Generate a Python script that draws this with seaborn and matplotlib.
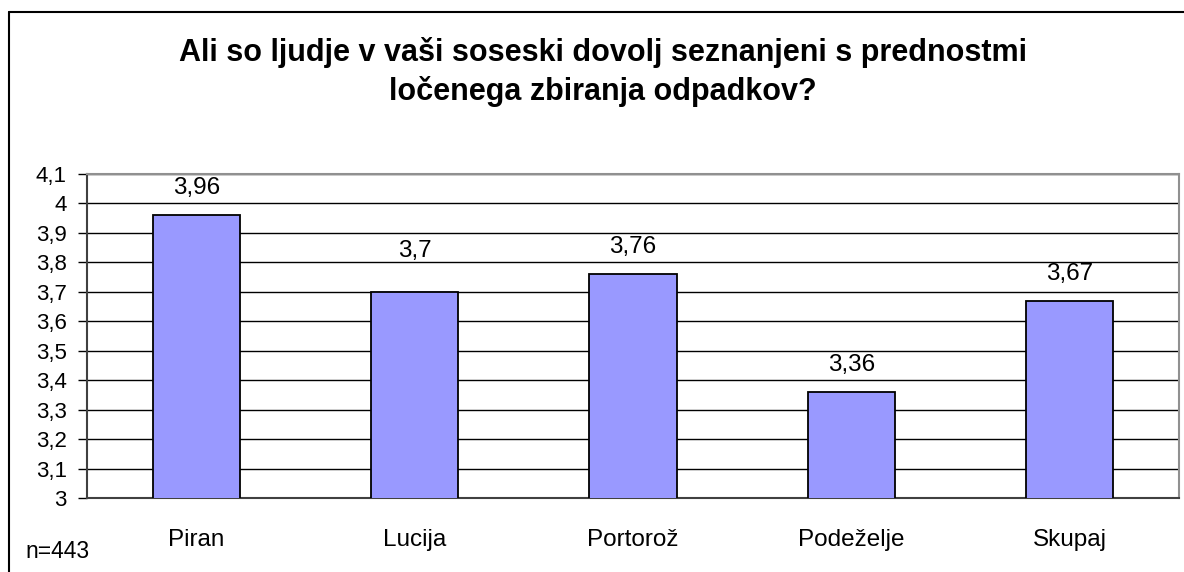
import matplotlib
matplotlib.use("Agg")
import matplotlib.pyplot as plt
import seaborn as sns
import pandas as pd
import numpy as np
from matplotlib.lines import Line2D

categories = ["Piran", "Lucija", "Portorož", "Podeželje", "Skupaj"]
values = [3.96, 3.70, 3.76, 3.36, 3.67]
value_labels = ["3,96", "3,7", "3,76", "3,36", "3,67"]
yticks = [3.0, 3.1, 3.2, 3.3, 3.4, 3.5, 3.6, 3.7, 3.8, 3.9, 4.0, 4.1]
ytick_labels = ["3", "3,1", "3,2", "3,3", "3,4", "3,5", "3,6", "3,7", "3,8", "3,9", "4", "4,1"]
title = "Ali so ljudje v vaši soseski dovolj seznanjeni s prednostmi\nločenega zbiranja odpadkov?"
note = "n=443"

sns.set_theme(style="white")
plt.rcParams["font.family"] = ["Liberation Sans", "DejaVu Sans"]
plt.rcParams["text.color"] = "black"
plt.rcParams["xtick.color"] = "black"
plt.rcParams["ytick.color"] = "black"

W, H = 1184, 572
fig = plt.figure(figsize=(W / 100, H / 100), dpi=100)
fig.patch.set_facecolor("white")
ax = fig.add_axes([87 / W, 1 - 498 / H, (1179 - 87) / W, (498 - 174) / H])

df = pd.DataFrame({"cat": categories, "val": values})
sns.barplot(data=df, x="cat", y="val", order=categories, color="#9999FF",
            saturation=1, width=0.4, edgecolor="black", linewidth=1.3, ax=ax, zorder=3)

ax.set_ylim(3.0, 4.1)
ax.set_xlim(-0.5, len(categories) - 0.5)
ax.set_yticks(yticks)
ax.set_yticklabels(ytick_labels, fontsize=16)
ax.set_xticks(range(len(categories)))
ax.set_xticklabels(categories, fontsize=17.5)
ax.tick_params(axis="x", which="major", length=0, pad=22)
ax.set_xticks(np.arange(-0.5, len(categories), 1.0), minor=True)
ax.tick_params(axis="x", which="minor", length=6.5, width=1, color="black", direction="out")
ax.tick_params(axis="y", length=6.5, width=1, color="black", direction="out", pad=8, left=True)
ax.set_xlabel("")
ax.set_ylabel("")

ax.yaxis.grid(True, color="black", linewidth=1)
ax.set_axisbelow(True)
for s in ["top", "right"]:
    ax.spines[s].set_color("#909090")
    ax.spines[s].set_linewidth(1.5)
for s in ["left", "bottom"]:
    ax.spines[s].set_color("#404040")
    ax.spines[s].set_linewidth(1.5)

# data labels placed a fixed distance above each bar (one nudged as in the original)
label_nudge = {1: 10}
for i, (v, lab) in enumerate(zip(values, value_labels)):
    ax.annotate(lab, xy=(i, v), xytext=(0, 19.5 + label_nudge.get(i, 0)), textcoords="offset points",
                ha="center", va="center", fontsize=17.5, color="black", zorder=5)

fig.text(603 / W, 1 - 72 / H, title, ha="center", va="center", fontsize=22,
         fontweight="bold", linespacing=1.3)
fig.text(25 / W, 1 - 551 / H, note, ha="left", va="center", fontsize=16.5)

# outer chart frame
fig.add_artist(Line2D([8.5 / W, 8.5 / W], [0, 1 - 12 / H], transform=fig.transFigure, color="black", linewidth=1.5))
fig.add_artist(Line2D([8.5 / W, 1], [1 - 12 / H, 1 - 12 / H], transform=fig.transFigure, color="black", linewidth=1.5))

fig.savefig("out.png", dpi=100)
